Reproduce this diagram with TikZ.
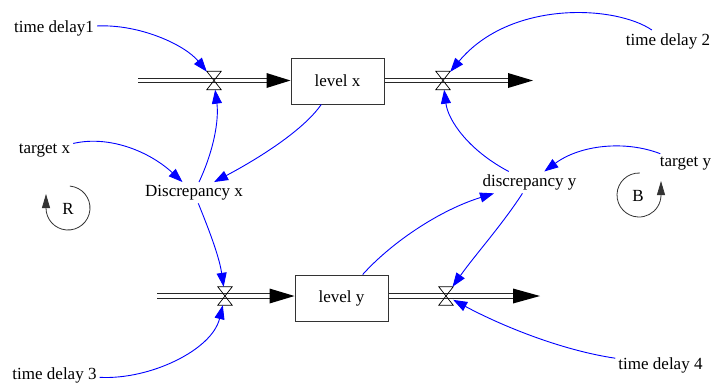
\documentclass[tikz,border=0pt]{standalone}
\usepackage{fontspec}
\setmainfont{Liberation Serif}
\usetikzlibrary{arrows.meta}
\begin{document}
\begin{tikzpicture}[x=1pt,y=-1pt,
  lbl/.style={font=\fontsize{17}{20}\selectfont, inner sep=3pt, anchor=base},
  stock/.style={draw=black!80, line width=1pt, minimum width=93pt, minimum height=46pt, inner sep=0pt, font=\fontsize{17}{20}\selectfont},
  valvebox/.style={minimum width=14pt, minimum height=18pt, inner sep=0pt},
  valveshape/.style={draw=black, line width=0.7pt},
  pipe/.style={draw=black!85, double=white, double distance=3.2pt, line width=1.1pt},
  flowtip/.style={fill=black},
  infl/.style={draw=blue, line width=0.9pt, -{Triangle[length=14pt,width=10pt]}},
  loopline/.style={draw=black!80, line width=0.8pt, -{Triangle[length=14pt,width=8pt]}},
]
\useasboundingbox[fill=white] (0,0) rectangle (715,383);

% texts
\node[lbl] (td1) at (54,32) {time delay1};
\node[lbl] (td2) at (668,45) {time delay 2};
\node[lbl] (tx) at (44.5,153) {target x};
\node[lbl] (dx) at (194,196.5) {Discrepancy x};
\node[lbl] (dy) at (529.5,186.5) {discrepancy y};
\node[lbl] (ty) at (685.5,166.5) {target y};
\node[lbl] (td3) at (54.5,379) {time delay 3};
\node[lbl] (td4) at (660.5,369) {time delay 4};

% stocks
\node[stock] (lx) at (337.5,81) {level x};
\node[stock] (ly) at (341.5,298) {level y};

% valves
\node[valvebox] (v1) at (214,80.5) {};
\node[valvebox] (v2) at (443,80.5) {};
\node[valvebox] (v3) at (225,296) {};
\node[valvebox] (v4) at (446,296) {};

% flow ends
\coordinate (s1) at (138,80.5);
\coordinate (e1) at (533,80.5);
\coordinate (s2) at (157,296);
\coordinate (e2) at (540,296);
\coordinate (t1) at (s1 -| lx.west);
\coordinate (t2) at (s2 -| ly.west);
\coordinate (o1) at (lx.east |- e1);
\coordinate (o2) at (ly.east |- e2);

% pipes
\draw[pipe] (s1) -- ([xshift=-22pt]t1);
\fill[flowtip] (t1) -- ++(-24,-7.5) -- ++(0,15) -- cycle;
\draw[pipe] (o1) -- ([xshift=-22pt]e1);
\fill[flowtip] (e1) -- ++(-25,-7.5) -- ++(0,15) -- cycle;
\draw[pipe] (s2) -- ([xshift=-22pt]t2);
\fill[flowtip] (t2) -- ++(-25,-7.5) -- ++(0,15) -- cycle;
\draw[pipe] (o2) -- ([xshift=-22pt]e2);
\fill[flowtip] (e2) -- ++(-27,-7.5) -- ++(0,15) -- cycle;

% valve shapes
\foreach \v in {v1,v2,v3,v4}
  \draw[valveshape] (\v.north west) -- (\v.north east) -- (\v.south west) -- (\v.south east) -- cycle;

% information links
\draw[infl] (td1) .. controls (140,24) and (185,45) .. (v1);
\draw[infl] (dx) .. controls (214,150) and (219,120) .. (v1);
\draw[infl] (lx) .. controls (305,128) and (265,155) .. (dx);
\draw[infl] (tx) .. controls (110,135) and (150,152) .. (dx);
\draw[infl] (td2) .. controls (615,5) and (510,0) .. (v2);
\draw[infl] (dy) .. controls (468,150) and (448,120) .. (v2);
\draw[infl] (ty) .. controls (625,140) and (580,145) .. (dy);
\draw[infl] (dx) .. controls (207,225) and (219,255) .. (v3);
\draw[infl] (td3) .. controls (150,380) and (212,350) .. (v3);
\draw[infl] (ly) .. controls (392,242) and (440,210) .. (dy);
\draw[infl] (dy) .. controls (502,225) and (475,255) .. (v4);
\draw[infl] (td4) .. controls (560,350) and (500,325) .. (v4);

% loop markers
\node[lbl] (R) at (68,214) {R};
\node[lbl] (B) at (638,201) {B};
\begin{scope}[shift={(68,208)}, y=1pt]
  \draw[loopline] (85:22) arc[start angle=85, end angle=-180, radius=22] -- ++(0,14);
\end{scope}
\begin{scope}[shift={(639,195)}, y=1pt]
  \draw[loopline] (88:22) arc[start angle=88, end angle=360, radius=22] -- ++(0,14);
\end{scope}
\end{tikzpicture}
\end{document}
